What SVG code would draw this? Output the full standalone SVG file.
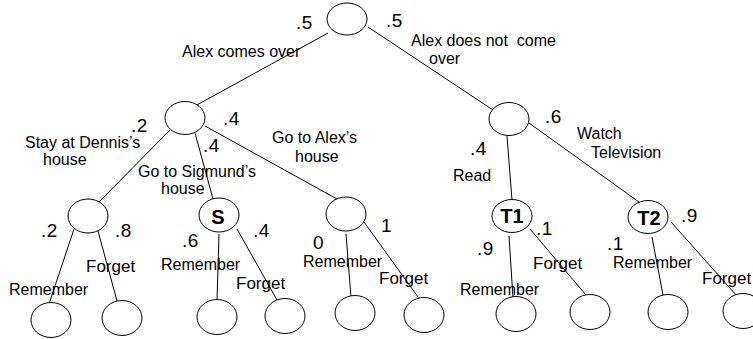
<svg xmlns="http://www.w3.org/2000/svg" width="753" height="339" viewBox="0 0 753 339">
<style>
.n{fill:#fff;stroke:#000;stroke-width:1}
.e{stroke:#000;stroke-width:1;fill:none}
text{font-family:"Liberation Sans",Arial,sans-serif;fill:#000}
.p{font-size:19px;letter-spacing:0.5px}
.l{font-size:16px}
.f{font-size:17px}
.b{font-size:20px;font-weight:bold;text-anchor:middle}
</style>
<rect width="753" height="339" fill="#fff"/>
<g id="connectors">
<line class="e" x1="328" y1="33" x2="195" y2="106"/>
<line class="e" x1="368" y1="27" x2="493" y2="110"/>
<line class="e" x1="170" y1="130" x2="98" y2="203"/>
<line class="e" x1="195" y1="133" x2="213" y2="199"/>
<line class="e" x1="205" y1="126" x2="337" y2="199"/>
<line class="e" x1="507" y1="136" x2="512" y2="200"/>
<line class="e" x1="529" y1="123" x2="639" y2="202"/>
<line class="e" x1="74" y1="229" x2="49" y2="304"/>
<line class="e" x1="98" y1="231" x2="117" y2="301"/>
<line class="e" x1="219" y1="234" x2="217" y2="301"/>
<line class="e" x1="237" y1="229" x2="277" y2="300"/>
<line class="e" x1="346" y1="234" x2="351" y2="297"/>
<line class="e" x1="364" y1="222" x2="418" y2="297"/>
<line class="e" x1="509" y1="236" x2="513" y2="298"/>
<line class="e" x1="530" y1="229" x2="586" y2="295"/>
<line class="e" x1="652" y1="237" x2="663" y2="295"/>
<line class="e" x1="671" y1="222" x2="737" y2="296"/>
</g>
<g id="root"><ellipse class="n" cx="347" cy="19" rx="20" ry="16"/></g>
<g id="alex-comes"><ellipse class="n" cx="185" cy="118" rx="20" ry="16.5"/></g>
<g id="alex-not"><ellipse class="n" cx="509" cy="119" rx="20" ry="16.5"/></g>
<g id="dennis"><ellipse class="n" cx="88" cy="216" rx="20" ry="17"/></g>
<g id="sigmund"><ellipse class="n" cx="219" cy="215" rx="20" ry="17"/><text class="b" x="218" y="224">S</text></g>
<g id="alex-house"><ellipse class="n" cx="346" cy="214" rx="20" ry="17"/></g>
<g id="t1"><ellipse class="n" cx="512" cy="216" rx="20" ry="16.5"/><text class="b" x="512" y="223">T1</text></g>
<g id="t2"><ellipse class="n" cx="648" cy="217" rx="20" ry="16.5"/><text class="b" x="649" y="225">T2</text></g>
<g id="leaf1"><ellipse class="n" cx="51" cy="320" rx="20" ry="17.5"/></g>
<g id="leaf2"><ellipse class="n" cx="122" cy="318" rx="20" ry="17.5"/></g>
<g id="leaf3"><ellipse class="n" cx="217" cy="317" rx="20" ry="17.5"/></g>
<g id="leaf4"><ellipse class="n" cx="285" cy="316" rx="20" ry="17.5"/></g>
<g id="leaf5"><ellipse class="n" cx="355" cy="313" rx="20" ry="17.5"/></g>
<g id="leaf6"><ellipse class="n" cx="424" cy="315" rx="20" ry="17.5"/></g>
<g id="leaf7"><ellipse class="n" cx="516" cy="314" rx="20" ry="17.5"/></g>
<g id="leaf8"><ellipse class="n" cx="590" cy="312" rx="20" ry="17.5"/></g>
<g id="leaf9"><ellipse class="n" cx="668" cy="312" rx="20" ry="17.5"/></g>
<g id="leaf10"><ellipse class="n" cx="743" cy="311" rx="20" ry="17.5"/></g>
<g id="labels">
<text class="p" x="296" y="29">.5</text>
<text class="p" x="386" y="27">.5</text>
<text class="l" x="182" y="57">Alex comes over</text>
<text class="l" x="411" y="46" xml:space="preserve" style="white-space:pre">Alex does not  come</text>
<text class="l" x="429" y="64">over</text>
<text class="p" x="131" y="132">.2</text>
<text class="p" x="223" y="125">.4</text>
<text class="l" x="25" y="148">Stay at Dennis’s</text>
<text class="l" x="43" y="165">house</text>
<text class="p" x="203" y="152">.4</text>
<text class="l" x="272" y="143">Go to Alex’s</text>
<text class="l" x="295" y="162">house</text>
<text class="l" x="138" y="177">Go to Sigmund’s</text>
<text class="l" x="161" y="194">house</text>
<text class="p" x="41" y="237">.2</text>
<text class="p" x="115" y="237">.8</text>
<text class="p" x="253" y="237">.4</text>
<text class="p" x="182" y="247">.6</text>
<text class="p" x="313" y="249">0</text>
<text class="p" x="381" y="232">1</text>
<text class="p" x="545" y="123">.6</text>
<text class="l" x="577" y="139">Watch</text>
<text class="l" x="591" y="158">Television</text>
<text class="p" x="470" y="155">.4</text>
<text class="l" x="453" y="181">Read</text>
<text class="p" x="536" y="235">.1</text>
<text class="p" x="681" y="222">.9</text>
<text class="p" x="477" y="255">.9</text>
<text class="p" x="607" y="250">.1</text>
<text class="l" x="9" y="295">Remember</text>
<text class="l" x="161" y="270">Remember</text>
<text class="l" x="303" y="267">Remember</text>
<text class="l" x="460" y="295">Remember</text>
<text class="l" x="613" y="268">Remember</text>
<text class="f" x="86" y="272">Forget</text>
<text class="f" x="236" y="289">Forget</text>
<text class="f" x="379" y="284">Forget</text>
<text class="f" x="533" y="269">Forget</text>
<text class="f" x="702" y="284">Forget</text>
</g>
</svg>
